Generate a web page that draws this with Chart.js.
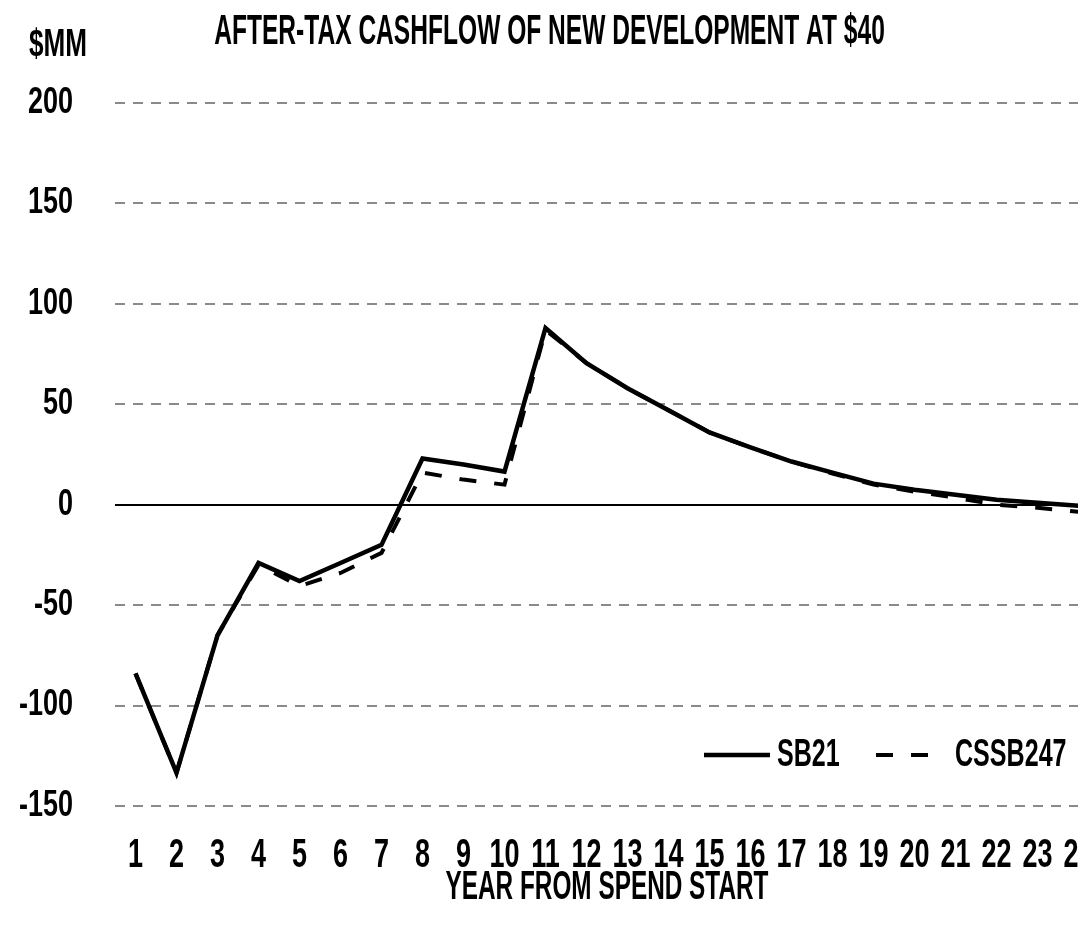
<!DOCTYPE html>
<html>
<head>
<meta charset="utf-8">
<script src="https://cdn.jsdelivr.net/npm/chart.js@4/dist/chart.umd.min.js"></script>
<style>
  html, body { margin: 0; padding: 0; background: #fff; overflow: hidden; }
  #wrap { width: 1078px; height: 926px; overflow: hidden; position: relative; }
  #box { width: 1099px; height: 926px; position: absolute; left: 0; top: 0; }
</style>
</head>
<body>
<div id="wrap"><div id="box"><canvas id="c"></canvas></div></div>
<script>
const FONT = "'Liberation Sans', Arial, sans-serif";

const years = ['1','2','3','4','5','6','7','8','9','10','11','12','13','14','15','16','17','18','19','20','21','22','23','24'];
const sb21 = [-84, -133.5, -65, -29, -38, -29, -20, 23, 20, 16.5, 88, 70.5, 58, 47, 36, 28.5, 21.5, 16, 10.5, 7.5, 5, 2.5, 1, -0.5];
const cssb247 = [-84, -133.5, -65, -30, -40.5, -34, -24, 16, 12.5, 10, 87, 70.5, 58, 47, 36, 28.5, 21.5, 15.5, 10, 6.5, 3.5, 0, -1.5, -3.5];
const seriesNames = ['SB21', 'CSSB247'];
const chartTitle = 'AFTER-TAX CASHFLOW OF NEW DEVELOPMENT AT $40';
const yUnit = '$MM';
const xTitle = 'YEAR FROM SPEND START';

// condensed look: horizontal text squeeze keyed by font size
const canvas = document.getElementById('c');
const c2d = canvas.getContext('2d');
const SQUEEZE = {36: 0.75, 40: 0.675, 42: 0.585, 41: 0.594, 38: 0.66, 39: 0.67};
function sxFor(c) {
  const m = /(\d+(?:\.\d+)?)px/.exec(c.font);
  return m ? (SQUEEZE[Math.round(+m[1])] || 1) : 1;
}
const origFill = c2d.fillText;
c2d.fillText = function (t, x, y, mw) {
  const s = sxFor(this);
  if (s === 1) return (mw === undefined ? origFill.call(this, t, x, y) : origFill.call(this, t, x, y, mw));
  this.save();
  this.translate(x, y);
  this.scale(s, 1);
  if (mw === undefined || mw === null) origFill.call(this, t, 0, 0);
  else origFill.call(this, t, 0, 0, mw / s);
  this.restore();
};
const origMeasure = c2d.measureText;
c2d.measureText = function (t) {
  const m = origMeasure.call(this, t);
  const s = sxFor(this);
  if (s === 1) return m;
  return {
    width: m.width * s,
    actualBoundingBoxAscent: m.actualBoundingBoxAscent,
    actualBoundingBoxDescent: m.actualBoundingBoxDescent,
    actualBoundingBoxLeft: m.actualBoundingBoxLeft * s,
    actualBoundingBoxRight: m.actualBoundingBoxRight * s,
    fontBoundingBoxAscent: m.fontBoundingBoxAscent,
    fontBoundingBoxDescent: m.fontBoundingBoxDescent
  };
};

const extras = {
  id: 'extras',
  afterDraw(chart) {
    const ctx = chart.ctx;
    ctx.save();
    ctx.fillStyle = '#000';
    ctx.font = "bold 39px " + FONT;
    ctx.textAlign = 'left';
    ctx.textBaseline = 'middle';
    ctx.fillText(yUnit, 29, 45);
    const ly = 755;
    const items = [
      {x0: 704, x1: 770, tx: 777},
      {x0: 876, x1: 932, tx: 955}
    ];
    chart.data.datasets.forEach((ds, i) => {
      const it = items[i];
      ctx.beginPath();
      ctx.strokeStyle = ds.borderColor;
      ctx.lineWidth = ds.borderWidth;
      ctx.setLineDash(ds.borderDash || []);
      ctx.moveTo(it.x0, ly);
      ctx.lineTo(it.x1, ly);
      ctx.stroke();
      ctx.setLineDash([]);
      ctx.fillStyle = '#000';
      ctx.font = "bold 38px " + FONT;
      ctx.textAlign = 'left';
      ctx.textBaseline = 'middle';
      ctx.fillText(ds.label, it.tx, ly + 1);
    });
    ctx.restore();
  }
};

new Chart(c2d, {
  type: 'line',
  data: {
    labels: years,
    datasets: [
      { label: seriesNames[0], data: sb21, borderColor: '#000', borderWidth: 4.5, pointRadius: 0, tension: 0, fill: false },
      { label: seriesNames[1], data: cssb247, borderColor: '#000', borderWidth: 4, borderDash: [17, 18], pointRadius: 0, tension: 0, fill: false }
    ]
  },
  options: {
    responsive: true,
    maintainAspectRatio: false,
    animation: false,
    layout: { padding: 0 },
    plugins: {
      legend: { display: false },
      tooltip: { enabled: false },
      title: {
        display: true,
        text: chartTitle,
        color: '#000',
        font: { family: FONT, size: 42, weight: 'bold', lineHeight: 1.2 },
        padding: { top: 7, bottom: 45.6 }
      }
    },
    scales: {
      x: {
        offset: true,
        grid: { display: true, drawOnChartArea: false, drawTicks: true, tickLength: 26, color: 'rgba(0,0,0,0)' },
        border: { display: false },
        ticks: { color: '#000', font: { family: FONT, size: 40, weight: 'bold', lineHeight: 1.2 }, padding: 0, maxRotation: 0, autoSkip: false },
        title: { display: true, text: xTitle, color: '#000', font: { family: FONT, size: 41, weight: 'bold', lineHeight: 1.2 }, padding: { top: 0, bottom: 14 } },
        afterFit(scale) { scale.height = 120; }
      },
      y: {
        min: -150,
        max: 200,
        grid: {
          drawTicks: false,
          color: c => (c.tick && c.tick.value === 0) ? '#000' : '#8a8a8a',
          lineWidth: 2
        },
        border: { display: false, dash: c => (c.tick && c.tick.value === 0) ? [] : [10, 8] },
        ticks: { stepSize: 50, color: '#000', font: { family: FONT, size: 36, weight: 'bold' }, padding: 42 },
        afterFit(scale) { scale.width = 115; }
      }
    }
  },
  plugins: [extras]
});
</script>
</body>
</html>
